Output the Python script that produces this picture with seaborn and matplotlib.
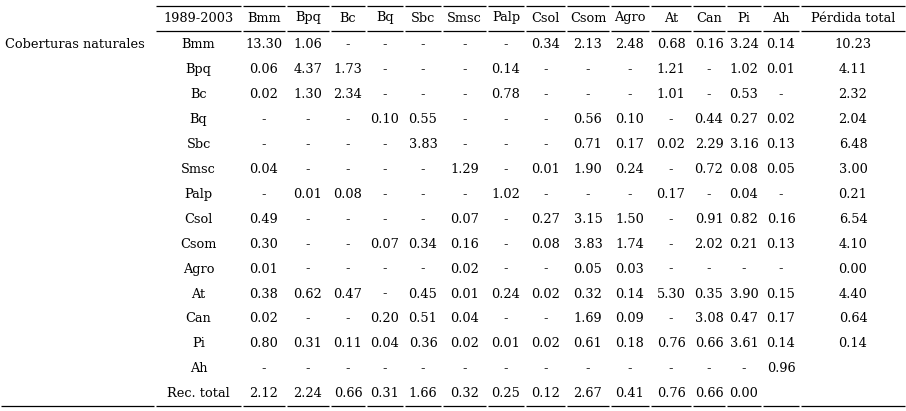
import matplotlib
matplotlib.use("Agg")
import matplotlib.pyplot as plt
import seaborn as sns

sns.set_style("white")
plt.rcParams['font.family'] = ['DejaVu Serif']

group_label = "Coberturas naturales"
corner = "1989-2003"
columns = ["Bmm","Bpq","Bc","Bq","Sbc","Smsc","Palp","Csol","Csom","Agro","At","Can","Pi","Ah","Pérdida total"]
rows = ["Bmm","Bpq","Bc","Bq","Sbc","Smsc","Palp","Csol","Csom","Agro","At","Can","Pi","Ah","Rec. total"]
D = "-"
r_Bmm  = ["13.30","1.06",D,D,D,D,D,"0.34","2.13","2.48","0.68","0.16","3.24","0.14","10.23"]
r_Bpq  = ["0.06","4.37","1.73",D,D,D,"0.14",D,D,D,"1.21",D,"1.02","0.01","4.11"]
r_Bc   = ["0.02","1.30","2.34",D,D,D,"0.78",D,D,D,"1.01",D,"0.53",D,"2.32"]
r_Bq   = [D,D,D,"0.10","0.55",D,D,D,"0.56","0.10",D,"0.44","0.27","0.02","2.04"]
r_Sbc  = [D,D,D,D,"3.83",D,D,D,"0.71","0.17","0.02","2.29","3.16","0.13","6.48"]
r_Smsc = ["0.04",D,D,D,D,"1.29",D,"0.01","1.90","0.24",D,"0.72","0.08","0.05","3.00"]
r_Palp = [D,"0.01","0.08",D,D,D,"1.02",D,D,D,"0.17",D,"0.04",D,"0.21"]
r_Csol = ["0.49",D,D,D,D,"0.07",D,"0.27","3.15","1.50",D,"0.91","0.82","0.16","6.54"]
r_Csom = ["0.30",D,D,"0.07","0.34","0.16",D,"0.08","3.83","1.74",D,"2.02","0.21","0.13","4.10"]
r_Agro = ["0.01",D,D,D,D,"0.02",D,D,"0.05","0.03",D,D,D,D,"0.00"]
r_At   = ["0.38","0.62","0.47",D,"0.45","0.01","0.24","0.02","0.32","0.14","5.30","0.35","3.90","0.15","4.40"]
r_Can  = ["0.02",D,D,"0.20","0.51","0.04",D,D,"1.69","0.09",D,"3.08","0.47","0.17","0.64"]
r_Pi   = ["0.80","0.31","0.11","0.04","0.36","0.02","0.01","0.02","0.61","0.18","0.76","0.66","3.61","0.14","0.14"]
r_Ah   = [D,D,D,D,D,D,D,D,D,D,D,D,D,"0.96",""]
r_Rec  = ["2.12","2.24","0.66","0.31","1.66","0.32","0.25","0.12","2.67","0.41","0.76","0.66","0.00","",""]
data = [r_Bmm,r_Bpq,r_Bc,r_Bq,r_Sbc,r_Smsc,r_Palp,r_Csol,r_Csom,r_Agro,r_At,r_Can,r_Pi,r_Ah,r_Rec]

fig = plt.figure(figsize=(9.06, 4.11), dpi=100)
ax = fig.add_axes([0, 0, 1, 1])
ax.set_xlim(0, 906); ax.set_ylim(411, 0); ax.axis("off")

bounds = [0,155,242,286,330,366,404,442,487,525,566,610,650,692,726,762,800,906]
fs = 9.3
header_y = 18
row_y0, dy = 45, 24.9

def hline(y, start_idx):
    for i in range(start_idx, len(bounds)-1):
        ax.plot([bounds[i]+1, bounds[i+1]-1], [y, y], color="black", lw=0.9, solid_capstyle="butt")

hline(6, 1); hline(31, 1); hline(406, 0)

centers = [(bounds[i]+bounds[i+1])/2 for i in range(len(bounds)-1)]
ax.text(centers[1], header_y, corner, ha="center", va="center", fontsize=fs, color="black")
for j, c in enumerate(columns):
    ax.text(centers[j+2], header_y, c, ha="center", va="center", fontsize=fs, color="black")
ax.text(5, row_y0, group_label, ha="left", va="center", fontsize=fs, color="black")
for i, (r, vals) in enumerate(zip(rows, data)):
    y = row_y0 + i*dy
    ax.text(centers[1], y, r, ha="center", va="center", fontsize=fs, color="black")
    for j, v in enumerate(vals):
        ax.text(centers[j+2], y, v, ha="center", va="center", fontsize=fs, color="black")

fig.savefig("out.png", dpi=100)
